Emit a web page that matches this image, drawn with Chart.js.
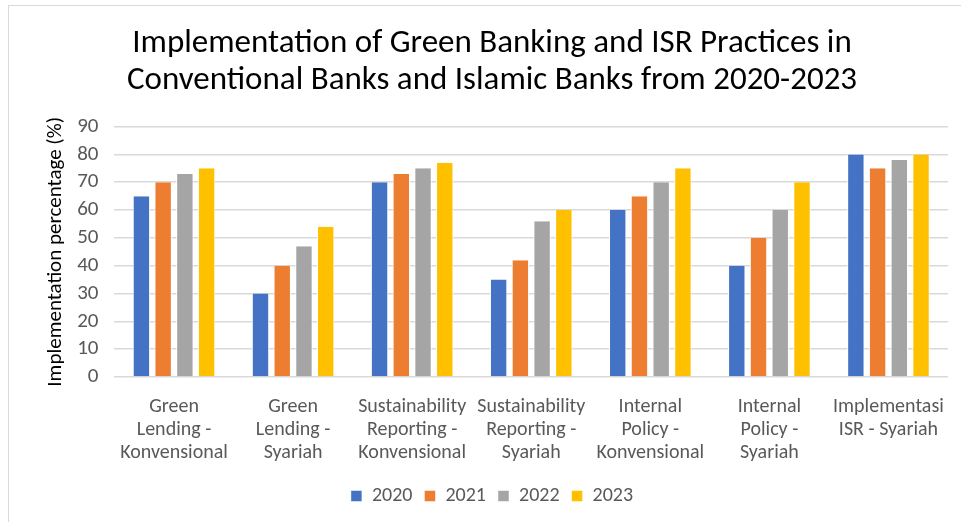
<!DOCTYPE html>
<html>
<head>
<meta charset="utf-8">
<script src="https://cdn.jsdelivr.net/npm/chart.js@4/dist/chart.umd.min.js"></script>
<style>
  html, body { margin: 0; padding: 0; background: #fff; }
  #frame {
    position: absolute; left: 8px; top: 5px; width: 960px; height: 520px;
    border: 1px solid #d9d9d9; box-sizing: border-box;
  }
  #wrap { position: absolute; left: 0; top: 0; width: 961px; height: 522px; }
</style>
</head>
<body>
<div id="frame"></div>
<div id="wrap"><canvas id="grafik"></canvas></div>
<script>
// data
const kategori = [
    ['Green', 'Lending -', 'Konvensional'],
    ['Green', 'Lending -', 'Syariah'],
    ['Sustainability', 'Reporting -', 'Konvensional'],
    ['Sustainability', 'Reporting -', 'Syariah'],
    ['Internal', 'Policy -', 'Konvensional'],
    ['Internal', 'Policy -', 'Syariah'],
    ['Implementasi', 'ISR - Syariah']
];
const tahun = ['2020', '2021', '2022', '2023'];
const data2020 = [65, 30, 70, 35, 60, 40, 80];
const data2021 = [70, 40, 73, 42, 65, 50, 75];
const data2022 = [73, 47, 75, 56, 70, 60, 78];
const data2023 = [75, 54, 77, 60, 75, 70, 80];
const yTicks = [0, 10, 20, 30, 40, 50, 60, 70, 80, 90];
const warna = ['#4472c4', '#ed7d31', '#a5a5a5', '#ffc000'];

const fontUtama = "Carlito, 'Liberation Sans Narrow', 'Open Sans', sans-serif";
const abu = '#595959';

const semuaData = [data2020, data2021, data2022, data2023];
const datasets = tahun.map((t, i) => ({
    label: t,
    data: semuaData[i],
    backgroundColor: warna[i],
    borderColor: '#ffffff',
    borderWidth: { top: 0, left: 1, right: 1, bottom: 0 },
    categoryPercentage: 0.73,
    barPercentage: 0.8
}));

const ctx = document.getElementById('grafik').getContext('2d');
new Chart(ctx, {
    type: 'bar',
    data: { labels: kategori, datasets: datasets },
    options: {
        responsive: true,
        maintainAspectRatio: false,
        animation: false,
        layout: { padding: { left: 36, right: 13, top: 26, bottom: 6 } },
        plugins: {
            title: {
                display: true,
                text: ['Implementation of Green Banking and ISR Practices in',
                       'Conventional Banks and Islamic Banks from 2020-2023'],
                color: '#000',
                font: { family: fontUtama, size: 33, weight: 'normal', lineHeight: 1.1 },
                padding: { top: 0, bottom: 28 }
            },
            legend: {
                position: 'bottom',
                labels: {
                    color: abu,
                    boxWidth: 11, boxHeight: 11,
                    padding: 12,
                    font: { family: fontUtama, size: 20 }
                }
            },
            tooltip: { enabled: false }
        },
        scales: {
            x: {
                grid: { display: false },
                border: { display: false },
                ticks: {
                    color: abu,
                    maxRotation: 0,
                    autoSkip: false,
                    padding: 10,
                    font: { family: fontUtama, size: 20, lineHeight: 1.15 }
                }
            },
            y: {
                min: 0, max: 90,
                afterBuildTicks: (axis) => { axis.ticks = yTicks.map(v => ({ value: v })); },
                ticks: {
                    autoSkip: false,
                    color: abu,
                    padding: 16,
                    font: { family: fontUtama, size: 21 }
                },
                grid: { color: '#d9d9d9', lineWidth: 1.5, drawTicks: false },
                border: { display: false },
                title: {
                    display: true,
                    text: 'Implementation percentage (%)',
                    color: '#000',
                    font: { family: fontUtama, size: 21 },
                    padding: { top: 7, bottom: -7 }
                }
            }
        }
    }
});
</script>
</body>
</html>
